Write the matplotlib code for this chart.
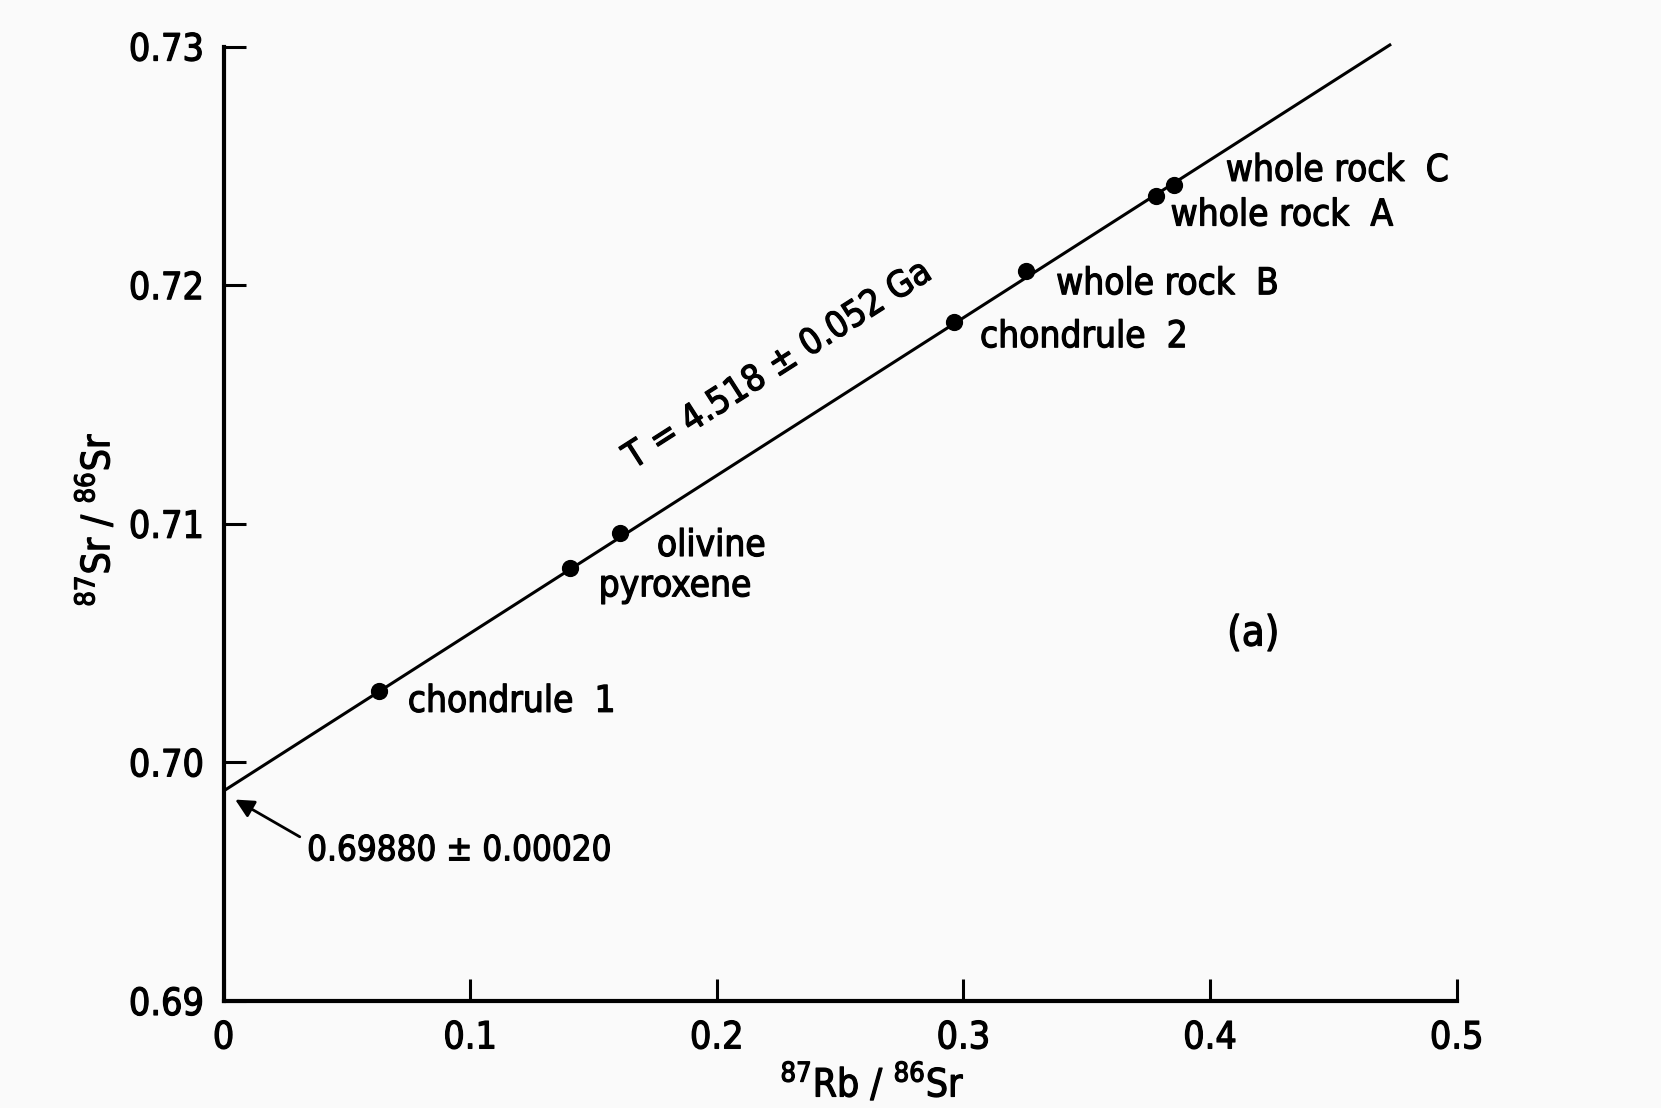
import matplotlib
matplotlib.use("Agg")
import matplotlib.pyplot as plt
import matplotlib.patheffects as pe
from matplotlib.text import Text

plt.rcParams['font.family'] = ['DejaVu Sans']
plt.rcParams['font.stretch'] = 'condensed'
plt.rcParams['mathtext.fontset'] = 'custom'
plt.rcParams['mathtext.rm'] = 'DejaVu Sans:stretch=condensed'

# isochron data (87Rb/86Sr, 87Sr/86Sr)
names = ['chondrule  1', 'pyroxene', 'olivine', 'chondrule  2',
         'whole rock  B', 'whole rock  A', 'whole rock  C']
rb_sr = [0.0631, 0.1405, 0.1607, 0.2960, 0.3252, 0.3780, 0.3853]
sr_sr = [0.70301, 0.70816, 0.70962, 0.71846, 0.72059, 0.72374, 0.72418]

# fitted isochron endpoints
line_x = [0.0, 0.4734]
line_y = [0.6988, 0.7301]

# label anchor (left edge, vertical centre)
lab_x = [0.0747, 0.1521, 0.1757, 0.3067, 0.3376, 0.3840, 0.4064]
lab_y = [0.70256, 0.70740, 0.70909, 0.71784, 0.72006, 0.72294, 0.72481]

xticks = [0, 0.1, 0.2, 0.3, 0.4, 0.5]
xtick_labels = ['0', '0.1', '0.2', '0.3', '0.4', '0.5']
yticks = [0.69, 0.70, 0.71, 0.72, 0.73]
ytick_labels = ['0.69', '0.70', '0.71', '0.72', '0.73']

fig = plt.figure(figsize=(16.61, 11.08), dpi=100, facecolor='#fafafa')
ax = fig.add_axes([0.1346, 0.0966, 0.877 - 0.1346, 0.958 - 0.0966])
ax.set_facecolor('#fafafa')

ax.plot(line_x, line_y, color='black', lw=2.2, clip_on=False, solid_capstyle='butt')
ax.scatter(rb_sr, sr_sr, s=130, color='black', zorder=3, clip_on=False)

for n, x, y in zip(names, lab_x, lab_y):
    ax.text(x, y, n, fontsize=26.5, ha='left', va='center')

ax.text(0.1661, 0.71226, 'T = 4.518 $\\pm$ 0.052 Ga', fontsize=26,
        ha='left', va='baseline', rotation=32.6, rotation_mode='anchor')

# arrow to the intercept
ax.annotate('', xy=(0.0047, 0.69844), xytext=(0.0309, 0.69688),
            arrowprops=dict(arrowstyle='-|>', color='black', lw=2,
                            mutation_scale=28, shrinkA=0, shrinkB=0))
ax.text(0.0339, 0.69630, '0.69880 $\\pm$ 0.00020', fontsize=25,
        ha='left', va='center')

ax.text(0.4175, 0.70540, '(a)', fontsize=30, ha='center', va='center')

ax.set_xlim(0, 0.5)
ax.set_ylim(0.69, 0.73)
ax.set_xticks(xticks)
ax.set_xticklabels(xtick_labels)
ax.set_yticks(yticks)
ax.set_yticklabels(ytick_labels)
ax.spines['top'].set_visible(False)
ax.spines['right'].set_visible(False)
ax.spines['left'].set_linewidth(3)
ax.spines['bottom'].set_linewidth(3)
ax.tick_params(direction='in', length=16, width=2.2, labelsize=27, pad=14)

ax.set_xlabel('$^{87}$Rb / $^{86}$Sr', fontsize=28)
ax.xaxis.set_label_coords(0.526, -0.064)
ax.set_ylabel('$^{87}$Sr / $^{86}$Sr', fontsize=28)
ax.yaxis.set_label_coords(-0.086, 0.504)

# slightly heavier strokes, like the printed typeface
for t in fig.findobj(Text):
    t.set_path_effects([pe.withStroke(linewidth=0.9, foreground='black')])

fig.savefig('out.png', dpi=100, facecolor=fig.get_facecolor())
